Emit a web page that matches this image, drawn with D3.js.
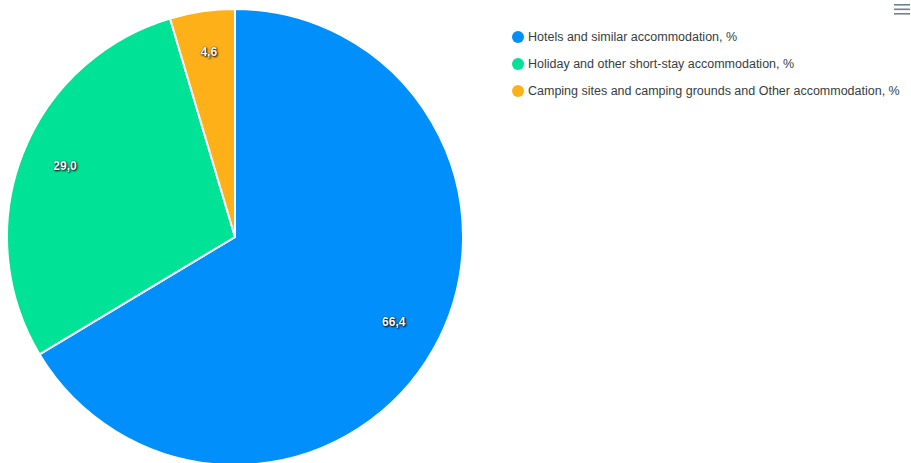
<!DOCTYPE html>
<html>
<head>
<meta charset="utf-8">
<script src="https://cdn.jsdelivr.net/npm/d3@7"></script>
<style>
  body { margin: 0; background: #fff; }
  svg { display: block; font-family: Helvetica, Arial, "Liberation Sans", sans-serif; }
  .slice-label { fill: #fff; font-size: 12px; font-weight: bold; text-shadow: 1px 1px 2px #000, 0 0 1px #000; }
  .legend-text { fill: #373d3f; font-size: 12.5px; }
</style>
</head>
<body>
<svg id="chart"></svg>
<script>
const categories = [
    'Hotels and similar accommodation, %',
    'Holiday and other short-stay accommodation, %',
    'Camping sites and camping grounds and Other accommodation, %'
];
const values = [66.4, 29.0, 4.6];
const colors = ['#008FFB', '#00E396', '#FEB019'];

const width = 911, height = 463;
const cx = 235, cy = 237, radius = 228;

const svg = d3.select('#chart').attr('width', width).attr('height', height);

const data = categories.map((name, i) => ({ name, value: values[i], color: colors[i] }));

const pie = d3.pie().sort(null).value(d => d.value);
const arc = d3.arc().innerRadius(0).outerRadius(radius);
const labelArc = d3.arc().innerRadius(radius * 0.8).outerRadius(radius * 0.8);

const g = svg.append('g').attr('transform', `translate(${cx},${cy})`);

g.selectAll('.slice')
    .data(pie(data))
    .enter()
    .append('path')
    .attr('class', 'slice')
    .attr('d', arc)
    .attr('fill', d => d.data.color)
    .attr('stroke', '#fff')
    .attr('stroke-width', 2);

// labels sit a little above the arc centroid
g.selectAll('.slice-label')
    .data(pie(data))
    .enter()
    .append('text')
    .attr('class', 'slice-label')
    .attr('transform', d => `translate(${labelArc.centroid(d)})`)
    .attr('text-anchor', 'middle')
    .attr('dy', -1)
    .text(d => d.data.value.toFixed(1).replace('.', ','));

// Legend
const legend = svg.append('g').attr('transform', 'translate(518, 37)');
const rows = legend.selectAll('.legend-row')
    .data(data)
    .enter()
    .append('g')
    .attr('class', 'legend-row')
    .attr('transform', (d, i) => `translate(0, ${i * 27})`);

rows.append('circle')
    .attr('r', 6)
    .attr('fill', d => d.color);

rows.append('text')
    .attr('class', 'legend-text')
    .attr('x', 10)
    .attr('dy', '0.35em')
    .text(d => d.name);

// Menu icon
const menu = svg.append('g').attr('transform', 'translate(894, 4)');
[0, 4.5, 9].forEach(y => {
    menu.append('rect')
        .attr('x', 0).attr('y', y)
        .attr('width', 16).attr('height', 1.6)
        .attr('fill', '#6e8192');
});
</script>
</body>
</html>
